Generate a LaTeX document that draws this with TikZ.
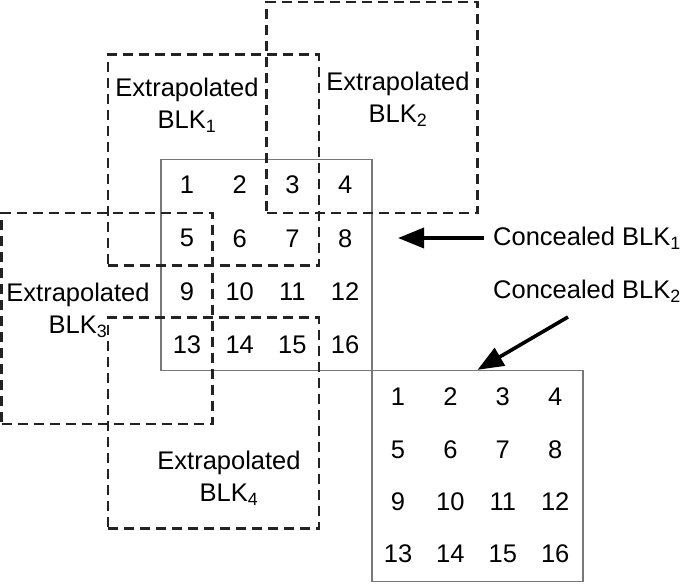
\documentclass[tikz,border=0pt]{standalone}
\usepackage{fontspec}
\setmainfont{Liberation Sans}
\usepackage{tikz}
\usetikzlibrary{arrows.meta}
\usetikzlibrary{positioning}
\definecolor{gridgray}{RGB}{120,120,120}
\definecolor{dashgray}{RGB}{35,35,35}

\tikzset{
  concealed/.style={draw=gridgray, line width=1.3pt, inner sep=0pt,
                    minimum width=211pt, minimum height=211pt},
  extrap/.style={draw=dashgray, line width=2.4pt, dash pattern=on 10pt off 6pt,
                 inner sep=0pt, minimum width=211pt, minimum height=211pt},
  blklabel/.style={align=center, inner sep=0pt, font=\fontsize{25.5}{32}\selectfont},
  num/.style={inner sep=0pt, font=\fontsize{25.5}{30}\selectfont},
  pointer/.style={-{Triangle[length=26pt,width=20pt]}, line width=3.6pt}
}

\begin{document}
\begin{tikzpicture}[x=1pt,y=-1pt]
    \useasboundingbox (0,0) rectangle (685,584);
    % concealed blocks
    \node[concealed] (cb1) at (266.5,265.0) {};
    \node[concealed] (cb2) at (477.5,476.0) {};
    % extrapolated blocks
    \node[extrap]    (eb1) at (213.5,160.0) {};
    \node[extrap]    (eb2) at (372.0,107.5) {};
    \node[extrap]    (eb3) at (107.0,318.5) {};
    \node[extrap]    (eb4) at (213.5,423.0) {};
    % pixel numbers
    \foreach \r in {0,...,3}
      \foreach \c in {0,...,3}{
        \pgfmathtruncatemacro{\n}{4*\r+\c+1}
        \node[num] (p1-\n) at (187+52.7*\c, 185+53.3*\r) {\n};
        \node[num] (p2-\n) at (398+52.4*\c, 397+52.4*\r) {\n};
      }
    % labels
    \node[blklabel] (eb1lbl) at (187,105) {Extrapolated\\BLK\textsubscript{1}};
    \node[blklabel] (eb2lbl) at (398,99)  {Extrapolated\\BLK\textsubscript{2}};
    \node[blklabel] (eb3lbl) at (78,310)  {Extrapolated\\BLK\textsubscript{3}};
    \node[blklabel] (eb4lbl) at (229,478) {Extrapolated\\BLK\textsubscript{4}};
    \node[blklabel, anchor=west] (cl1) at (493,238) {Concealed BLK\textsubscript{1}};
    \node[blklabel, anchor=west] (cl2) at (493,291) {Concealed BLK\textsubscript{2}};
    % pointers
    \coordinate (tip1)  at (398,238);
    \coordinate (tail2) at (568,317);
    \draw[pointer, shorten <=9pt] (cl1) -- (tip1);
    \draw[pointer] (tail2) -- (cb2.north);
\end{tikzpicture}
\end{document}
